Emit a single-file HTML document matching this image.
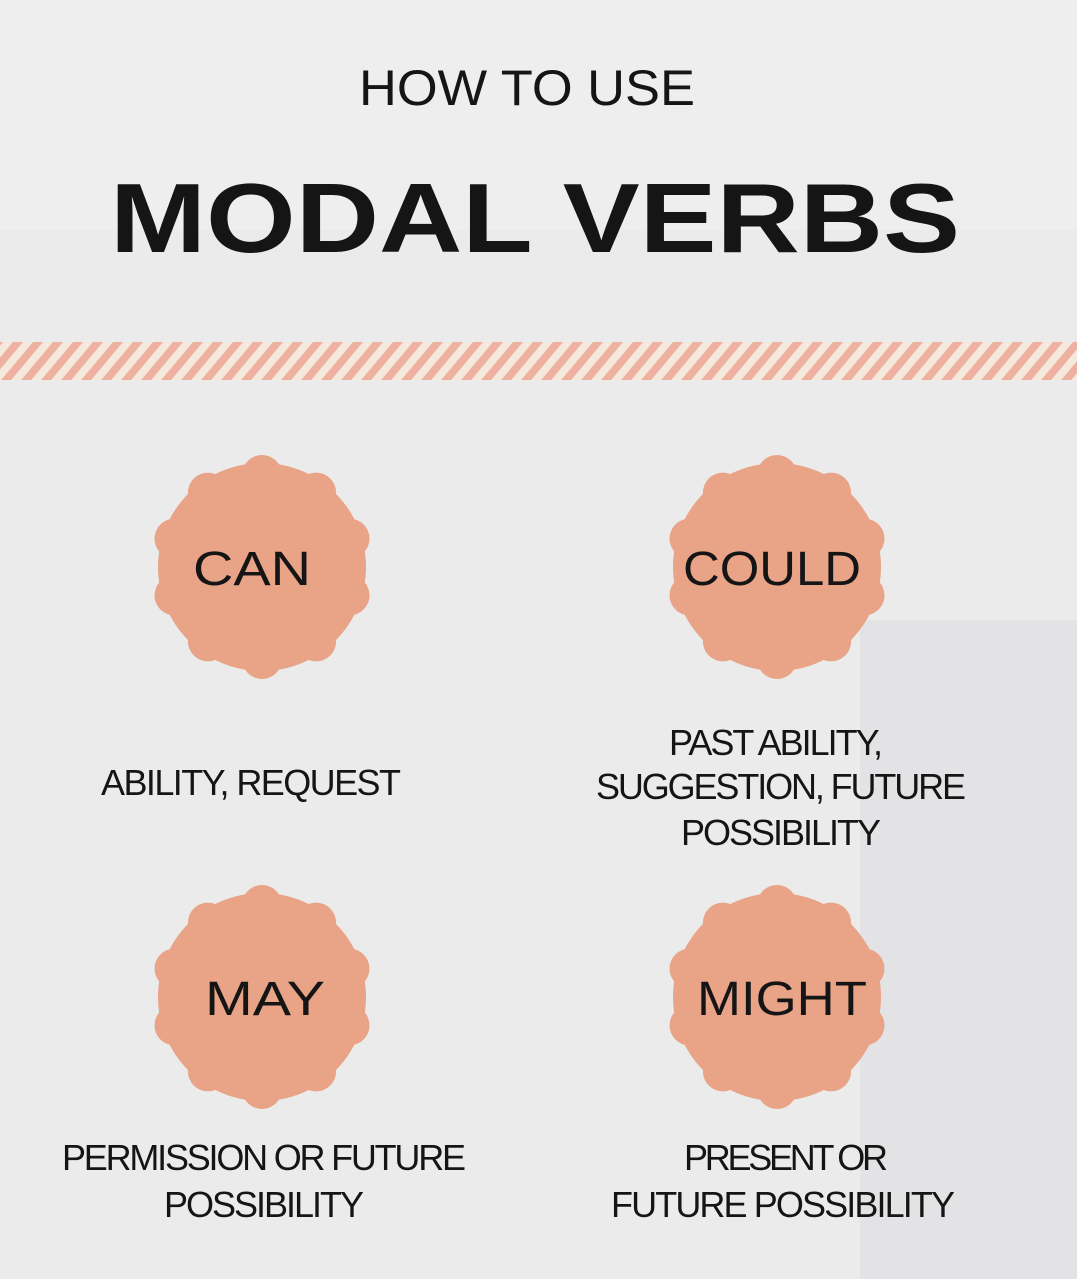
<!DOCTYPE html>
<html><head><meta charset="utf-8"><style>
html,body{margin:0;padding:0;background:#ebebeb}
svg{display:block}
text{font-family:"Liberation Sans",sans-serif;fill:#151515}
</style></head><body>
<svg width="1077" height="1279" viewBox="0 0 1077 1279" xmlns="http://www.w3.org/2000/svg">
<defs>
<pattern id="st" width="20" height="40" patternUnits="userSpaceOnUse" patternTransform="skewX(-40)">
<rect width="20" height="40" fill="#f5e8dc"/>
<rect width="10" height="40" fill="#eeb1a0"/>
</pattern>
<g id="badge" fill="#e9a387">
<circle r="104"/>
<circle cx="0" cy="-92" r="20"/><circle cx="54.1" cy="-74.4" r="20"/><circle cx="87.5" cy="-28.4" r="20"/>
<circle cx="87.5" cy="28.4" r="20"/><circle cx="54.1" cy="74.4" r="20"/><circle cx="0" cy="92" r="20"/>
<circle cx="-54.1" cy="74.4" r="20"/><circle cx="-87.5" cy="28.4" r="20"/><circle cx="-87.5" cy="-28.4" r="20"/>
<circle cx="-54.1" cy="-74.4" r="20"/>
</g>
</defs>
<rect width="1077" height="1279" fill="#ebebeb"/>
<rect x="0" y="0" width="1077" height="230" fill="#eeeeee"/>
<rect x="860" y="620" width="217" height="659" fill="#e3e2e4"/>
<rect x="0" y="342" width="1077" height="38" fill="url(#st)"/>
<text x="527" y="105" font-size="50" text-anchor="middle" textLength="336" lengthAdjust="spacingAndGlyphs">HOW TO USE</text>
<text x="535" y="252" font-size="98" font-weight="bold" text-anchor="middle" textLength="850" lengthAdjust="spacingAndGlyphs">MODAL VERBS</text>
<use href="#badge" x="262" y="567"/>
<use href="#badge" x="777" y="567"/>
<use href="#badge" x="262" y="997"/>
<use href="#badge" x="777" y="997"/>
<text x="252" y="585" font-size="48" text-anchor="middle" textLength="118" lengthAdjust="spacingAndGlyphs">CAN</text>
<text x="772" y="585" font-size="48" text-anchor="middle" textLength="178" lengthAdjust="spacingAndGlyphs">COULD</text>
<text x="265" y="1015" font-size="48" text-anchor="middle" textLength="120" lengthAdjust="spacingAndGlyphs">MAY</text>
<text x="782" y="1015" font-size="48" text-anchor="middle" textLength="170" lengthAdjust="spacingAndGlyphs">MIGHT</text>
<g font-size="36" text-anchor="middle" lengthAdjust="spacingAndGlyphs">
<text x="251" y="795" textLength="300">ABILITY, REQUEST</text>
<text x="776" y="755" textLength="214">PAST ABILITY,</text>
<text x="781" y="799" textLength="370">SUGGESTION, FUTURE</text>
<text x="781" y="845" textLength="200">POSSIBILITY</text>
<text x="264" y="1170" textLength="404">PERMISSION OR FUTURE</text>
<text x="264" y="1217" textLength="200">POSSIBILITY</text>
<text x="786" y="1170" textLength="204">PRESENT OR</text>
<text x="783" y="1217" textLength="344">FUTURE POSSIBILITY</text>
</g>
</svg>
</body></html>
